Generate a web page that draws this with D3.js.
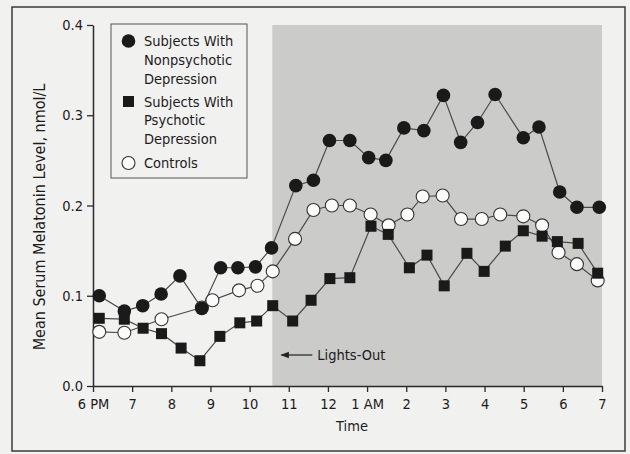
<!DOCTYPE html>
<meta charset="utf-8">
<script src="https://d3js.org/d3.v7.min.js"></script>
<style>
body { margin:0; background:#f1f1f0; }
#melatonin-chart text { font-family: "Liberation Sans Narrow", "DejaVu Sans Condensed", "Arial Narrow", sans-serif; fill:#1c1c1c; }
</style>
<div id="melatonin-chart"></div>
<script>
// hour ticks, counted from 6 PM
var hourTicks = [0,1,2,3,4,5,6,7,8,9,10,11,12,13];
var hourLabels = ["6 PM","7","8","9","10","11","12","1 AM","2","3","4","5","6","7"];
var levelTicks = [0, 0.1, 0.2, 0.3, 0.4];

// lights-out time (hours after 6 PM)
var lightsOut = 4.58;

// nonpsychotic depression (filled circles)
var nonpsyHours = [0.16,0.80,1.27,1.74,2.22,2.78,3.26,3.70,4.15,4.56,5.18,5.63,6.04,6.56,7.04,7.48,7.94,8.45,8.95,9.39,9.82,10.27,10.99,11.39,11.92,12.36,12.93];
var nonpsyLevels = [0.100,0.083,0.089,0.102,0.122,0.086,0.131,0.131,0.132,0.153,0.222,0.228,0.272,0.272,0.253,0.250,0.286,0.283,0.322,0.270,0.292,0.323,0.275,0.287,0.215,0.198,0.198];

// psychotic depression (filled squares)
var psyHours = [0.16,0.80,1.28,1.75,2.25,2.73,3.24,3.75,4.18,4.59,5.10,5.57,6.05,6.56,7.10,7.54,8.08,8.53,8.97,9.55,9.99,10.53,10.99,11.47,11.86,12.39,12.89];
var psyLevels = [0.075,0.074,0.064,0.058,0.042,0.028,0.055,0.070,0.072,0.089,0.072,0.095,0.119,0.120,0.177,0.168,0.131,0.145,0.111,0.147,0.127,0.155,0.172,0.166,0.160,0.158,0.125];

// controls (open circles)
var ctrlHours = [0.16,0.80,1.75,2.78,3.05,3.73,4.20,4.59,5.16,5.63,6.10,6.56,7.09,7.55,8.03,8.42,8.93,9.40,9.93,10.40,10.99,11.47,11.89,12.36,12.89];
var ctrlLevels = [0.060,0.059,0.074,0.087,0.095,0.106,0.111,0.127,0.163,0.195,0.200,0.200,0.190,0.178,0.190,0.210,0.211,0.185,0.185,0.190,0.188,0.178,0.148,0.135,0.117];

var W = 630, H = 454;
var fs = "14.5px";
var svg = d3.select("#melatonin-chart").append("svg")
    .attr("width", W).attr("height", H);

svg.append("rect")
    .attr("x", 12).attr("y", 7).attr("width", 613).attr("height", 444)
    .attr("fill", "#f1f1f0").attr("stroke", "#3a3a3a").attr("stroke-width", 1.5);

var x = d3.scaleLinear().domain([0, 13]).range([93, 602]);
var y = d3.scaleLinear().domain([0, 0.4]).range([386, 25]);

// dark period
svg.append("rect")
    .attr("x", x(lightsOut)).attr("y", y(0.4))
    .attr("width", x(13) - x(lightsOut)).attr("height", y(0) - y(0.4))
    .attr("fill", "#cbcbca");

var xAxis = svg.append("g")
    .attr("transform", "translate(0," + y(0) + ")")
    .call(d3.axisBottom(x).tickValues(hourTicks)
        .tickFormat(function(d, i) { return hourLabels[i]; })
        .tickSize(6).tickSizeOuter(0).tickPadding(7));
var yAxis = svg.append("g")
    .attr("transform", "translate(" + x(0) + ",0)")
    .call(d3.axisLeft(y).tickValues(levelTicks).tickFormat(d3.format(".1f"))
        .tickSize(6).tickSizeOuter(0).tickPadding(4));
[xAxis, yAxis].forEach(function(a) {
    a.select(".domain").attr("stroke", "#2a2a2a").attr("stroke-width", 1.5);
    a.selectAll(".tick line").attr("stroke", "#2a2a2a").attr("stroke-width", 1.3);
    a.selectAll("text").attr("font-size", fs).attr("fill", "#1c1c1c");
});

svg.append("text")
    .attr("x", 352).attr("y", 431)
    .attr("text-anchor", "middle").attr("font-size", fs)
    .text("Time");

svg.append("text")
    .attr("transform", "translate(45,217) rotate(-90)")
    .attr("text-anchor", "middle").attr("font-size", "16px")
    .text("Mean Serum Melatonin Level, nmol/L");

// lights-out arrow
svg.append("defs").append("marker")
    .attr("id", "arrowhead").attr("viewBox", "0 0 10 10")
    .attr("refX", 9).attr("refY", 5)
    .attr("markerWidth", 7).attr("markerHeight", 7)
    .attr("orient", "auto-start-reverse")
    .append("path").attr("d", "M0,1L10,5L0,9z").attr("fill", "#222");
svg.append("line")
    .attr("x1", x(lightsOut) + 40).attr("y1", 355)
    .attr("x2", x(lightsOut) + 9).attr("y2", 355)
    .attr("stroke", "#222").attr("stroke-width", 1.2)
    .attr("marker-end", "url(#arrowhead)");
svg.append("text")
    .attr("x", x(lightsOut) + 45).attr("y", 355).attr("dy", "0.35em")
    .attr("font-size", fs)
    .text("Lights-Out");

function pts(hours, levels) {
    return hours.map(function(h, i) { return [h, levels[i]]; });
}
var line = d3.line().x(function(d) { return x(d[0]); }).y(function(d) { return y(d[1]); });

var ctrl = pts(ctrlHours, ctrlLevels),
    psy = pts(psyHours, psyLevels),
    nonpsy = pts(nonpsyHours, nonpsyLevels);

[ctrl, psy, nonpsy].forEach(function(s) {
    svg.append("path").datum(s)
        .attr("d", line).attr("fill", "none")
        .attr("stroke", "#4a4a4a").attr("stroke-width", 1.2);
});

svg.selectAll(".ctrl").data(ctrl).enter().append("circle")
    .attr("cx", function(d) { return x(d[0]); })
    .attr("cy", function(d) { return y(d[1]); })
    .attr("r", 6.5).attr("fill", "#fbfbfb")
    .attr("stroke", "#333").attr("stroke-width", 1.1);
svg.selectAll(".psy").data(psy).enter().append("rect")
    .attr("x", function(d) { return x(d[0]) - 5.5; })
    .attr("y", function(d) { return y(d[1]) - 5.5; })
    .attr("width", 11).attr("height", 11)
    .attr("fill", "#1a1a1a");
svg.selectAll(".nonpsy").data(nonpsy).enter().append("circle")
    .attr("cx", function(d) { return x(d[0]); })
    .attr("cy", function(d) { return y(d[1]); })
    .attr("r", 6.8).attr("fill", "#1a1a1a");

// legend
var lg = svg.append("g");
lg.append("rect")
    .attr("x", 111).attr("y", 24).attr("width", 136).attr("height", 154)
    .attr("fill", "#f1f1f0").attr("stroke", "#555").attr("stroke-width", 1);
lg.append("circle").attr("cx", 128.5).attr("cy", 41).attr("r", 6.8).attr("fill", "#1a1a1a");
lg.append("rect").attr("x", 123).attr("y", 96).attr("width", 11).attr("height", 11).attr("fill", "#1a1a1a");
lg.append("circle").attr("cx", 128.5).attr("cy", 163).attr("r", 6.5)
    .attr("fill", "#fbfbfb").attr("stroke", "#333").attr("stroke-width", 1.1);
var legendLines = [
    ["Subjects With", 41], ["Nonpsychotic", 59.5], ["Depression", 78.5],
    ["Subjects With", 101.5], ["Psychotic", 120], ["Depression", 138.5],
    ["Controls", 163]
];
legendLines.forEach(function(l) {
    lg.append("text").attr("x", 144).attr("y", l[1]).attr("dy", "0.35em")
        .attr("font-size", fs).text(l[0]);
});
</script>
